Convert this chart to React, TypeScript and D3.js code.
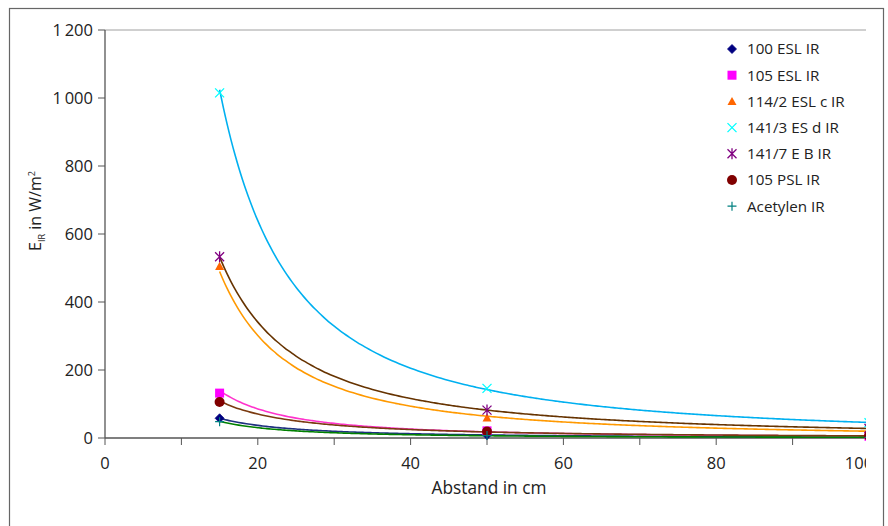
import React from 'react';
import * as d3 from 'd3';

// ---------- data ----------
const distances = [15, 50, 100];
const seriesNames = ['100 ESL IR', '105 ESL IR', '114/2 ESL c IR', '141/3 ES d IR', '141/7 E B IR', '105 PSL IR', 'Acetylen IR'];
const esl100 = [58, 9, 3];
const esl105 = [132, 21, 5];
const esl114 = [505, 59, 21];
const es141_3 = [1015, 146, 45];
const eb141_7 = [533, 82, 28];
const psl105 = [106, 19, 6];
const acetylen = [48, 7, 2];
const seriesValues = [esl100, esl105, esl114, es141_3, eb141_7, psl105, acetylen];
const markerShapes = ['diamond', 'square', 'triangle', 'x', 'asterisk', 'circle', 'plus'];
const markerColors = ['#000080', '#FF00FF', '#FF6600', '#00FFFF', '#800080', '#800000', '#008080'];
const trendColors = ['#1F3080', '#FF33CC', '#FF9900', '#00B0F0', '#663300', '#7A3A10', '#008000'];

const xTickValues = [0, 10, 20, 30, 40, 50, 60, 70, 80, 90, 100];
const xLabelValues = [0, 20, 40, 60, 80, 100];
const yTickValues = [0, 200, 400, 600, 800, 1000, 1200];
const yTickLabels = ['0', '200', '400', '600', '800', '1\u2009000', '1\u2009200'];

// ---------- layout ----------
const W = 888;
const H = 526;
const left = 105;
const clipRight = 866;
const top = 30;
const bottom = 438;

const x = d3.scaleLinear().domain([0, 100]).range([left, 869]);
const y = d3.scaleLinear().domain([0, 1200]).range([bottom, top]);

function powerFit(xs: number[], ys: number[]) {
  const lx = xs.map(Math.log);
  const ly = ys.map(Math.log);
  const mx = d3.mean(lx) as number;
  const my = d3.mean(ly) as number;
  let sxy = 0, sxx = 0;
  lx.forEach((v, i) => { sxy += (v - mx) * (ly[i] - my); sxx += (v - mx) * (v - mx); });
  const b = sxy / sxx;
  const a = Math.exp(my - b * mx);
  return (t: number) => a * Math.pow(t, b);
}

function Marker({ shape, cx, cy, color }: { shape: string; cx: number; cy: number; color: string }) {
  const s = 4.5;
  switch (shape) {
    case 'diamond':
      return <path d={`M${cx},${cy - s}L${cx + s},${cy}L${cx},${cy + s}L${cx - s},${cy}Z`} fill={color} stroke={color} strokeWidth={0.8} />;
    case 'square':
      return <rect x={cx - s} y={cy - s} width={2 * s} height={2 * s} fill={color} />;
    case 'triangle':
      return <path d={`M${cx},${cy - s}L${cx + s},${cy + s * 0.8}L${cx - s},${cy + s * 0.8}Z`} fill={color} />;
    case 'x':
      return <path d={`M${cx - s},${cy - s}L${cx + s},${cy + s}M${cx - s},${cy + s}L${cx + s},${cy - s}`} stroke={color} strokeWidth={1.3} fill="none" />;
    case 'asterisk':
      return <path d={`M${cx - s},${cy - s}L${cx + s},${cy + s}M${cx - s},${cy + s}L${cx + s},${cy - s}M${cx},${cy - s - 1}L${cx},${cy + s + 1}`} stroke={color} strokeWidth={1.3} fill="none" />;
    case 'circle':
      return <circle cx={cx} cy={cy} r={s + 0.5} fill={color} />;
    case 'plus':
      return <path d={`M${cx - s},${cy}L${cx + s},${cy}M${cx},${cy - s}L${cx},${cy + s}`} stroke={color} strokeWidth={1.2} fill="none" />;
    default:
      return null;
  }
}

export default function App() {
  const fits = seriesValues.map((vals) => powerFit(distances, vals));
  const samples = d3.range(15, 101.01, 0.5);
  const line = d3.line<number>().x((d) => x(d[0])).y((d) => y(d[1])).curve(d3.curveMonotoneX);
  const font = "'Open Sans', 'DejaVu Sans', sans-serif";

  return (
    <svg width={W} height={H} style={{ display: 'block', position: 'absolute', left: 0, top: 0 }} fontFamily={font}>
      <defs>
        <clipPath id="plotClip">
          <rect x={0} y={0} width={clipRight} height={H} />
        </clipPath>
      </defs>
      <rect x={0} y={0} width={W} height={H} fill="#fff" />
      {/* outer frame */}
      <rect x={9.5} y={8.5} width={874} height={540} fill="none" stroke="#666" strokeWidth={1.2} />

      <g clipPath="url(#plotClip)">
        {/* plot area top border */}
        <line x1={left} x2={clipRight} y1={top} y2={top} stroke="#a0a0a0" strokeWidth={1} />

        {/* x axis */}
        <line x1={left} x2={clipRight} y1={bottom} y2={bottom} stroke="#555" strokeWidth={1.3} />
        {xTickValues.map((t) => (
          <line key={'xt' + t} x1={x(t)} x2={x(t)} y1={bottom} y2={bottom + 7} stroke="#555" strokeWidth={1} />
        ))}
        {xLabelValues.map((t) => (
          <text key={'xl' + t} x={t === 100 ? x(t) - 10 : x(t)} y={bottom + 31} textAnchor="middle" fontSize={16.5} fill="#222">
            {String(t)}
          </text>
        ))}

        {/* trendlines */}
        {fits.map((f, i) => (
          <path key={'tr' + i} d={line(samples.map((t) => [t, f(t)] as any)) || ''} fill="none" stroke={trendColors[i]} strokeWidth={1.6} />
        ))}

        {/* markers */}
        {seriesValues.map((vals, i) =>
          vals.map((v, j) => (
            <Marker key={'m' + i + '-' + j} shape={markerShapes[i]} cx={x(distances[j])} cy={y(v)} color={markerColors[i]} />
          ))
        )}
      </g>

      {/* y axis */}
      <line x1={left} x2={left} y1={top} y2={bottom} stroke="#555" strokeWidth={1.3} />
      {yTickValues.map((t, i) => (
        <g key={'yt' + t}>
          <line x1={left - 7} x2={left} y1={y(t)} y2={y(t)} stroke="#555" strokeWidth={1} />
          <text x={93} y={y(t)} dy="0.36em" textAnchor="end" fontSize={16.5} fill="#222">
            {yTickLabels[i]}
          </text>
        </g>
      ))}

      {/* axis titles */}
      <text x={489} y={494} textAnchor="middle" fontSize={17.3} fill="#222">Abstand in cm</text>
      <text transform="translate(41,211) rotate(-90)" textAnchor="middle" fontSize={16} fill="#222">
        <tspan>E</tspan>
        <tspan fontSize={9} dy={4}>IR</tspan>
        <tspan dy={-4}>{' in W/m'}</tspan>
        <tspan fontSize={9} dy={-6}>2</tspan>
      </text>

      {/* legend */}
      {seriesNames.map((name, i) => {
        const cy = 49 + i * 26.2;
        return (
          <g key={'lg' + i}>
            <Marker shape={markerShapes[i]} cx={732} cy={cy} color={markerColors[i]} />
            <text x={747} y={cy} dy="0.36em" fontSize={15.2} fill="#222">{name}</text>
          </g>
        );
      })}
    </svg>
  );
}
